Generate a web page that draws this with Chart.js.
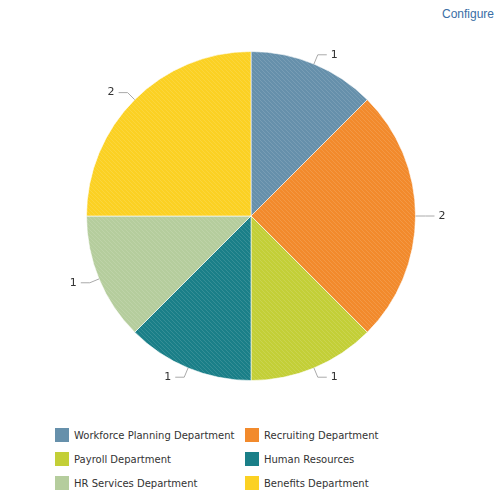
<!DOCTYPE html>
<html>
<head>
<meta charset="utf-8">
<script src="https://cdn.jsdelivr.net/npm/chart.js@4/dist/chart.umd.min.js"></script>
<style>
  html, body { margin: 0; padding: 0; background: #fff; }
  body { width: 498px; height: 492px; position: relative; overflow: hidden; font-family: "DejaVu Sans", Verdana, sans-serif; }
  #cfg { position: absolute; top: 7px; right: 4px; color: #3a6ea5; font-family: "Liberation Sans", Arial, sans-serif; font-size: 12px; }
  #wrap { position: absolute; left: 0; top: 0; width: 498px; height: 420px; }
  #legend { position: absolute; left: 55px; top: 428px; width: 440px; }
  .li { position: absolute; height: 16px; font-size: 10px; color: #333; line-height: 15px; white-space: nowrap; }
  .sw { display: inline-block; width: 14px; height: 14px; vertical-align: top; margin-right: 5px; }
</style>
</head>
<body>
<div id="cfg">Configure</div>
<div id="wrap"><canvas id="c" width="498" height="420"></canvas></div>
<div id="legend"></div>
<script>
const categories = ["Workforce Planning Department", "Recruiting Department", "Payroll Department", "Human Resources", "HR Services Department", "Benefits Department"];
const values = [1, 2, 1, 1, 1, 2];
const colors = ["#6690ab", "#f28a2c", "#c3cf37", "#1a7f88", "#b5cd9d", "#fbd123"];

function hatch(color) {
  const p = document.createElement('canvas');
  p.width = 4; p.height = 4;
  const g = p.getContext('2d');
  g.fillStyle = color; g.fillRect(0, 0, 4, 4);
  g.strokeStyle = 'rgba(255,255,255,0.12)';
  g.lineWidth = 1;
  g.beginPath();
  g.moveTo(0, 0); g.lineTo(4, 4);
  g.moveTo(-2, 2); g.lineTo(2, 6);
  g.moveTo(2, -2); g.lineTo(6, 2);
  g.stroke();
  return g.createPattern(p, 'repeat');
}

const leaderPlugin = {
  id: 'leaders',
  afterDatasetsDraw(chart) {
    const ctx = chart.ctx;
    const meta = chart.getDatasetMeta(0);
    ctx.save();
    ctx.font = '11px "DejaVu Sans", Verdana, sans-serif';
    ctx.fillStyle = '#333';
    ctx.strokeStyle = '#aaa';
    ctx.lineWidth = 1;
    meta.data.forEach((arc, i) => {
      const mid = (arc.startAngle + arc.endAngle) / 2;
      const cx = arc.x, cy = arc.y, r = arc.outerRadius;
      const x0 = cx + Math.cos(mid) * r, y0 = cy + Math.sin(mid) * r;
      const x1 = cx + Math.cos(mid) * (r + 10), y1 = cy + Math.sin(mid) * (r + 10);
      const right = Math.cos(mid) >= 0;
      const x2 = x1 + (right ? 9 : -9);
      ctx.beginPath();
      ctx.moveTo(x0, y0); ctx.lineTo(x1, y1); ctx.lineTo(x2, y1);
      ctx.stroke();
      ctx.textBaseline = 'middle';
      ctx.textAlign = right ? 'left' : 'right';
      ctx.fillText(String(values[i]), x2 + (right ? 4 : -4), y1);
    });
    ctx.restore();
  }
};

new Chart(document.getElementById('c'), {
  type: 'pie',
  data: {
    labels: categories,
    datasets: [{
      data: values,
      backgroundColor: colors.map(hatch),
      borderColor: 'rgba(255,255,255,0.6)',
      borderWidth: 1
    }]
  },
  options: {
    responsive: false,
    animation: false,
    layout: { padding: { left: 86, right: 82, top: 51, bottom: 39 } },
    plugins: { legend: { display: false }, tooltip: { enabled: false } }
  },
  plugins: [leaderPlugin]
});

const lg = document.getElementById('legend');
categories.forEach((name, i) => {
  const d = document.createElement('div');
  d.className = 'li';
  d.style.left = (i % 2 === 0 ? 0 : 190) + 'px';
  d.style.top = (Math.floor(i / 2) * 24) + 'px';
  const s = document.createElement('span');
  s.className = 'sw';
  s.style.background = colors[i];
  d.appendChild(s);
  d.appendChild(document.createTextNode(name));
  lg.appendChild(d);
});
</script>
</body>
</html>
